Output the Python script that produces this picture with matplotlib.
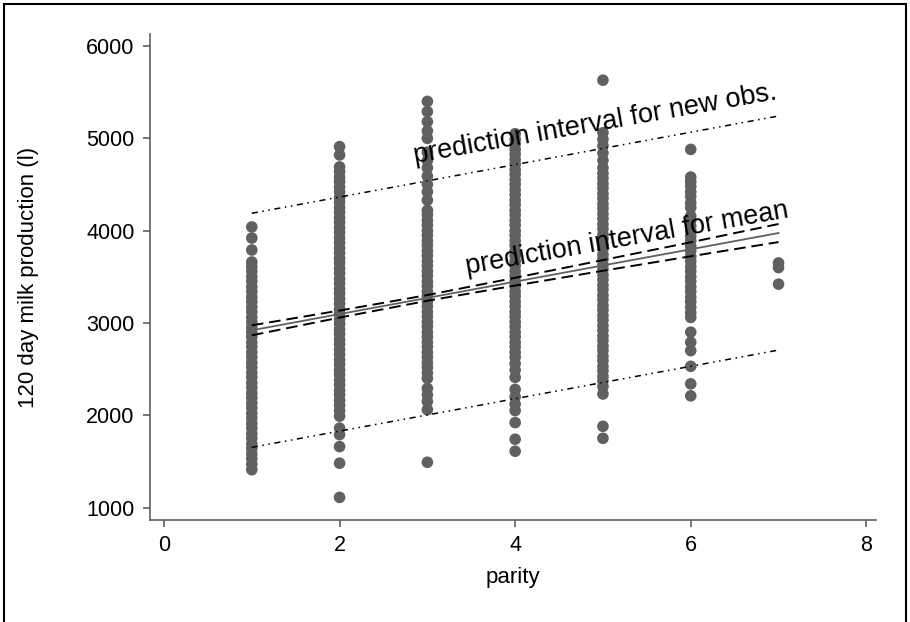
"""
Milk production vs parity with fitted line, CI for mean and PI for new obs.
Saves out.png
"""

import numpy as np
import matplotlib
matplotlib.use("Agg")
import matplotlib.pyplot as plt
from matplotlib.patches import Rectangle

plt.rcParams["font.family"] = ["Liberation Sans", "DejaVu Sans"]

# observations, one list per parity
parity_1 = [4040, 3920, 3790, 3660, 3610, 3560, 3500, 3450, 3390, 3340, 3280,
            3230, 3170, 3120, 3060, 3010, 2950, 2900, 2850, 2790, 2740, 2680,
            2630, 2570, 2520, 2460, 2410, 2350, 2300, 2240, 2190, 2130, 2080,
            2020, 1970, 1910, 1860, 1800, 1750, 1690, 1640, 1580, 1530, 1470,
            1410]
parity_2 = [4910, 4820, 4690, 4640, 4580, 4530, 4470, 4420, 4360, 4310, 4250,
            4200, 4140, 4090, 4030, 3980, 3920, 3870, 3810, 3760, 3700, 3650,
            3590, 3540, 3480, 3430, 3370, 3320, 3260, 3210, 3150, 3100, 3040,
            2990, 2930, 2880, 2820, 2770, 2710, 2660, 2600, 2550, 2490, 2440,
            2380, 2330, 2270, 2220, 2160, 2110, 2050, 1990, 1860, 1790, 1660,
            1480, 1110]
parity_3 = [5400, 5290, 5180, 5080, 5000, 4850, 4760, 4680, 4590, 4500, 4420,
            4330, 4220, 4170, 4110, 4060, 4000, 3950, 3890, 3840, 3780, 3730,
            3670, 3620, 3560, 3510, 3450, 3400, 3340, 3290, 3230, 3180, 3120,
            3070, 3010, 2960, 2900, 2850, 2790, 2740, 2680, 2630, 2570, 2520,
            2460, 2400, 2290, 2220, 2150, 2060, 1490]
parity_4 = [5050, 4990, 4940, 4880, 4830, 4770, 4720, 4660, 4610, 4550, 4500,
            4440, 4390, 4330, 4280, 4220, 4170, 4110, 4060, 4000, 3950, 3890,
            3840, 3780, 3730, 3670, 3620, 3560, 3510, 3450, 3400, 3340, 3290,
            3230, 3180, 3120, 3070, 3010, 2960, 2900, 2850, 2790, 2740, 2680,
            2630, 2560, 2490, 2410, 2280, 2200, 2120, 2050, 1920, 1740, 1610]
parity_5 = [5630, 5060, 4990, 4920, 4840, 4760, 4680, 4620, 4570, 4510, 4460,
            4400, 4350, 4290, 4240, 4180, 4130, 4070, 4020, 3960, 3910, 3850,
            3800, 3740, 3690, 3630, 3580, 3520, 3470, 3410, 3360, 3300, 3250,
            3190, 3140, 3080, 3030, 2970, 2920, 2860, 2810, 2750, 2700, 2640,
            2590, 2530, 2480, 2420, 2370, 2310, 2230, 1880, 1750]
parity_6 = [4880, 4580, 4530, 4480, 4420, 4370, 4300, 4250, 4160, 4110, 4050,
            4000, 3940, 3890, 3830, 3780, 3720, 3670, 3610, 3560, 3500, 3450,
            3390, 3340, 3280, 3230, 3170, 3110, 3060, 2900, 2790, 2700, 2530,
            2340, 2210]
parity_7 = [3650, 3600, 3420]

# fitted line and intervals at each parity
parity_grid = [1, 2, 3, 4, 5, 6, 7]
fit = [2920, 3096, 3271, 3447, 3623, 3798, 3974]
ci_lo = [2866, 3058, 3240, 3405, 3565, 3722, 3876]
ci_hi = [2974, 3134, 3302, 3489, 3681, 3874, 4072]
pi_lo = [1652, 1828, 2003, 2179, 2355, 2530, 2706]
pi_hi = [4188, 4364, 4539, 4715, 4891, 5066, 5242]

x_ticks = [0, 2, 4, 6, 8]
y_ticks = [1000, 2000, 3000, 4000, 5000, 6000]


def main():
    fig = plt.figure(figsize=(9.1, 6.22), dpi=100)
    ax = fig.add_axes([0.1648, 0.164, 0.7978, 0.7813])

    grey = "#606060"
    columns = [parity_1, parity_2, parity_3, parity_4, parity_5, parity_6, parity_7]
    for p, vals in zip(parity_grid, columns):
        ax.scatter(np.full(len(vals), p), vals, s=70, color=grey,
                   edgecolors="none", zorder=2)

    ax.plot(parity_grid, fit, color=grey, lw=1.3, zorder=3)
    ax.plot(parity_grid, ci_lo, color="black", lw=1.4, dashes=(6, 3), zorder=3)
    ax.plot(parity_grid, ci_hi, color="black", lw=1.4, dashes=(6, 3), zorder=3)
    ddot = (4, 3, 1, 3, 1, 3)
    ax.plot(parity_grid, pi_lo, color="black", lw=1.1, dashes=ddot, zorder=3)
    ax.plot(parity_grid, pi_hi, color="black", lw=1.1, dashes=ddot, zorder=3)

    ax.text(2.86, 4728, "prediction interval for new obs.", fontsize=19.5,
            rotation=10, rotation_mode="anchor", ha="left", va="baseline", zorder=4)
    ax.text(3.45, 3533, "prediction interval for mean", fontsize=19.5,
            rotation=10, rotation_mode="anchor", ha="left", va="baseline", zorder=4)

    ax.set_xlim(-0.16, 8.11)
    ax.set_ylim(865, 6130)
    ax.set_xticks(x_ticks)
    ax.set_yticks(y_ticks)
    ax.set_yticklabels([str(v) for v in y_ticks])

    for side in ("top", "right"):
        ax.spines[side].set_visible(False)
    for side in ("left", "bottom"):
        ax.spines[side].set_color(grey)
        ax.spines[side].set_linewidth(1.2)
    ax.tick_params(axis="both", colors=grey, length=5, width=1.2,
                   labelcolor="black", labelsize=15.5, pad=6)

    ax.set_xlabel("parity", fontsize=16)
    ax.set_ylabel("120 day milk production (l)", fontsize=16)
    ax.yaxis.set_label_coords(-0.153, 0.5)
    ax.xaxis.set_label_coords(0.5, -0.097)

    # border round the whole graph
    fig.patches.append(Rectangle((4 / 910, -0.02), 902 / 910, 1.02 - 4 / 622,
                                 transform=fig.transFigure, fill=False,
                                 edgecolor="black", lw=1.5))

    fig.savefig("out.png", dpi=100)


if __name__ == "__main__":
    main()
